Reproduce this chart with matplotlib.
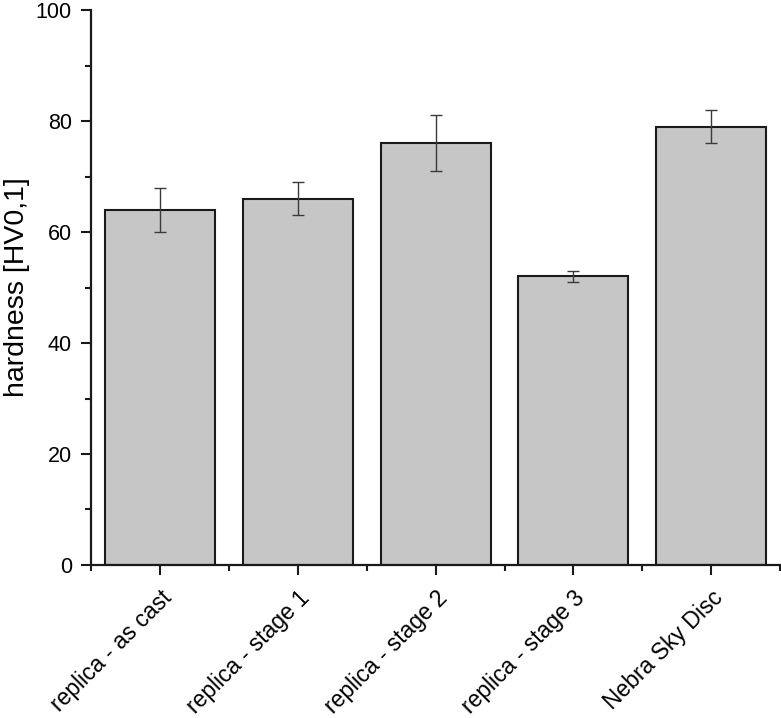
import numpy as np
import matplotlib
matplotlib.use('Agg')
import matplotlib.pyplot as plt
import matplotlib.transforms as mtransforms
from matplotlib.ticker import MultipleLocator, FixedLocator

samples = ['replica - as cast', 'replica - stage 1', 'replica - stage 2',
           'replica - stage 3', 'Nebra Sky Disc']
hardness = [64, 66, 76, 52, 79]
hardness_err = [4, 3, 5, 1, 3]

plt.rcParams['font.family'] = ['Liberation Sans', 'DejaVu Sans']
plt.rcParams['font.size'] = 15

fig = plt.figure(figsize=(7.81, 7.18), dpi=100)
ax = fig.add_axes([0.117, 0.2131, 0.8817, 0.7729])

x = np.arange(1, len(samples) + 1)
ax.bar(x, hardness, width=0.8, color='#c6c6c6', edgecolor='#1a1a1a',
       linewidth=1.5, zorder=2)
ax.errorbar(x, hardness, yerr=hardness_err, fmt='none', ecolor='#3a3a3a',
            elinewidth=1.0, capsize=4.5, capthick=1.0, zorder=3)

ax.set_xlim(0.5, len(samples) + 0.5)
ax.set_ylim(0, 100)
ax.yaxis.set_major_locator(MultipleLocator(20))
ax.yaxis.set_minor_locator(MultipleLocator(10))
ax.set_xticks(x)
ax.xaxis.set_minor_locator(FixedLocator(np.arange(0.5, len(samples) + 1, 1.0)))
ax.set_xticklabels(samples, rotation=45, ha='right', rotation_mode='anchor',
                   fontsize=16.5)

# nudge the rotated labels a little to the right
offset = mtransforms.ScaledTranslation(5 / 100, -2 / 100, fig.dpi_scale_trans)
for lbl in ax.get_xticklabels():
    lbl.set_transform(lbl.get_transform() + offset)

for s in ['top', 'right']:
    ax.spines[s].set_visible(False)
for s in ['left', 'bottom']:
    ax.spines[s].set_linewidth(1.6)
    ax.spines[s].set_color('#1a1a1a')

ax.tick_params(which='major', direction='out', length=7.5, width=1.5,
               color='#1a1a1a')
ax.tick_params(which='minor', direction='out', length=4, width=1.5,
               color='#1a1a1a')
ax.tick_params(axis='y', which='major', labelsize=15.5, pad=6.5)
ax.tick_params(axis='x', which='major', pad=8)

ax.set_ylabel('hardness [HV0,1]', fontsize=20.5, labelpad=4)

fig.savefig('out.png', dpi=100)
